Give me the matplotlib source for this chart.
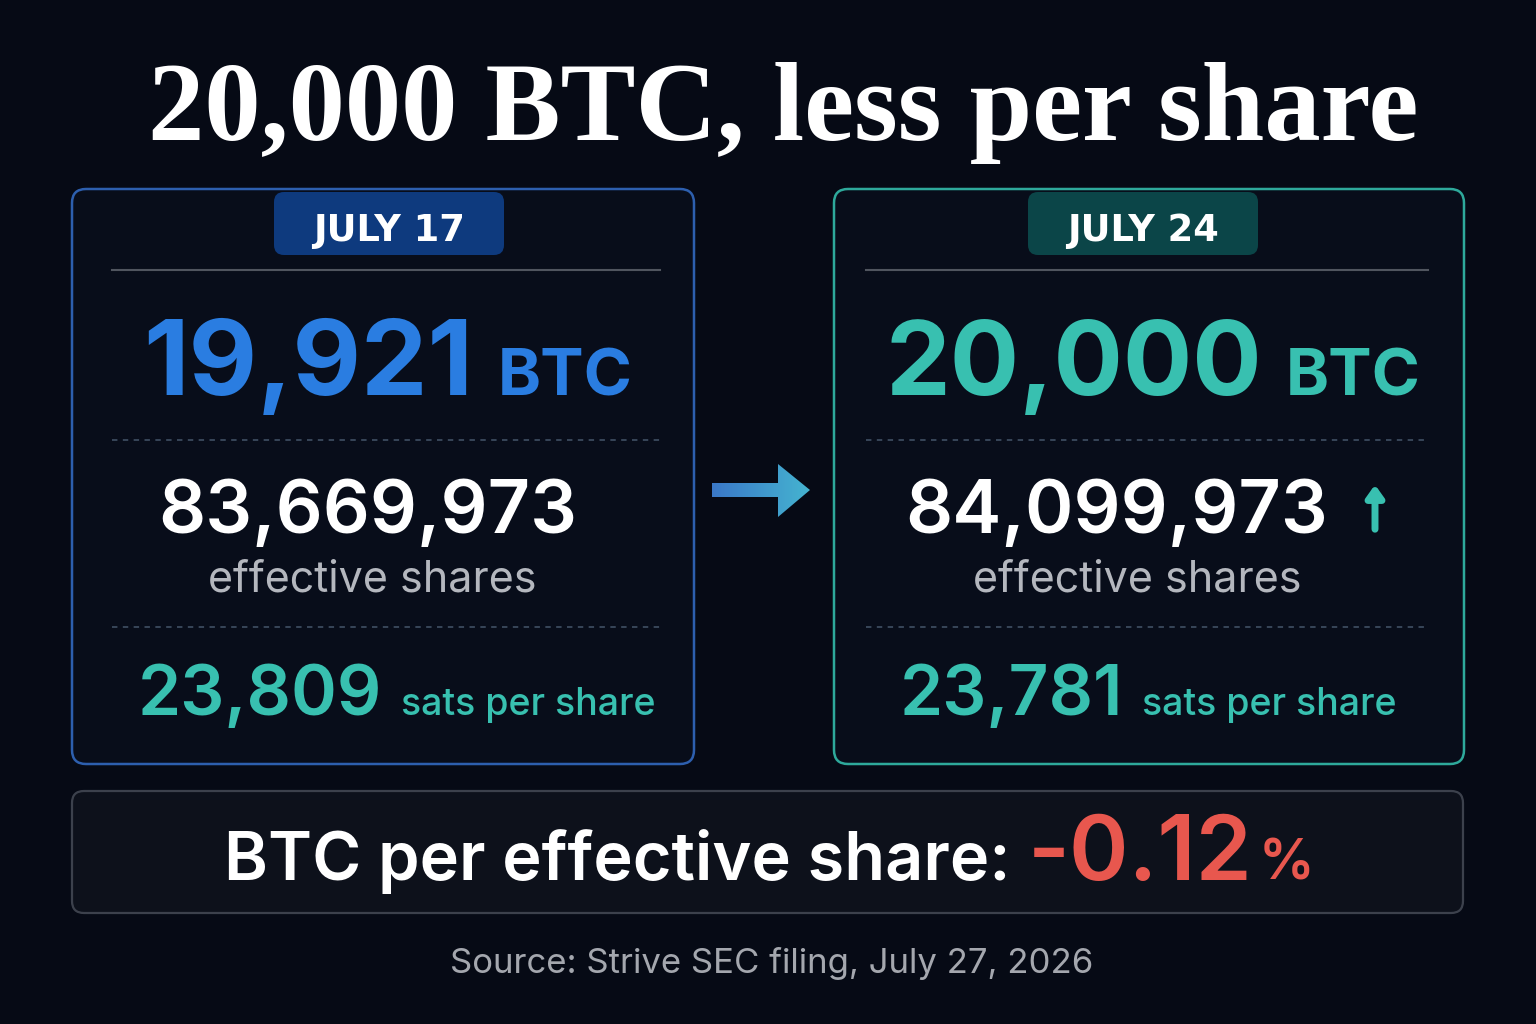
import matplotlib
matplotlib.use("Agg")
import matplotlib.pyplot as plt
import numpy as np
from matplotlib.patches import FancyBboxPatch, Polygon
from matplotlib.colors import LinearSegmentedColormap

# ---- data ----
title = "20,000 BTC, less per share"
dates = ["JULY 17", "JULY 24"]
btc_holdings = [19921, 20000]
effective_shares = [83669973, 84099973]
sats_per_share = [23809, 23781]
change_pct = -0.12
source = "Source: Strive SEC filing, July 27, 2026"

BG = "#060a15"
BLUE = "#2a7de1"
TEAL = "#38c0b0"
RED = "#e8574e"
WHITE = "#ffffff"
GRAY = "#b4b7be"

W, H = 1536, 1024
fig = plt.figure(figsize=(W / 100, H / 100), dpi=100, facecolor=BG)
ax = fig.add_axes([0, 0, 1, 1])
ax.set_xlim(0, W)
ax.set_ylim(H, 0)
ax.axis("off")
ax.set_facecolor(BG)

FONT = ["Inter", "DejaVu Sans"]

fig.canvas.draw()
renderer = fig.canvas.get_renderer()


def width_of(t):
    return t.get_window_extent(renderer=renderer).width


def group(cx, y, parts, gaps):
    """parts: list of (text, size, color, weight). Centered horizontally at cx, baseline y."""
    objs = []
    for s, size, color, weight in parts:
        objs.append(ax.text(0, y, s, fontsize=size, color=color, fontweight=weight,
                            family=FONT, ha="left", va="baseline"))
    widths = [width_of(o) for o in objs]
    if not isinstance(gaps, (list, tuple)):
        gaps = [gaps] * (len(objs) - 1)
    total = sum(widths) + sum(gaps)
    x = cx - total / 2
    for k, (o, w) in enumerate(zip(objs, widths)):
        o.set_x(x)
        x += w + (gaps[k] if k < len(gaps) else 0)
    return objs


# title
ax.text(783, 140, title, fontsize=81, color=WHITE, fontweight="bold",
        family=["Liberation Serif", "DejaVu Serif"], ha="center", va="baseline")

panels = [
    dict(x0=72, x1=694, edge="#2d5fae", badge="#0e3a7e", accent=BLUE, arrow=False,
         badge_dx=6, line=(112, 660), shares_dx=-15, eff_dx=-11, btc_dx=5, sats_dx=14,
         btc_size=76),
    dict(x0=834, x1=1464, edge="#2ea99b", badge="#0b4548", accent=TEAL, arrow=True,
         badge_dx=-6, line=(866, 1428), shares_dx=-32, eff_dx=-12, btc_dx=4, sats_dx=-1,
         btc_size=74),
]

for i, p in enumerate(panels):
    x0, x1 = p["x0"], p["x1"]
    cx = (x0 + x1) / 2
    box = FancyBboxPatch((x0, 189), x1 - x0, 575, boxstyle="round,pad=0,rounding_size=14",
                         facecolor="#080d1a", edgecolor=p["edge"], linewidth=1.8)
    ax.add_patch(box)
    # badge
    bw = 230
    bcx = cx + p["badge_dx"]
    badge = FancyBboxPatch((bcx - bw / 2, 192), bw, 63, boxstyle="round,pad=0,rounding_size=10",
                           facecolor=p["badge"], edgecolor="none")
    ax.add_patch(badge)
    ax.text(bcx, 241, dates[i], fontsize=26.5, color=WHITE, fontweight="bold",
            family=["DejaVu Sans"], ha="center", va="baseline")
    # separators
    la, lb = p["line"]
    ax.plot([la, lb], [270, 270], color="#50555f", lw=1.5)
    ax.plot([la, lb], [440, 440], color="#3b4a5e", lw=1.3, ls=(0, (3, 3)))
    ax.plot([la, lb], [627, 627], color="#3b4a5e", lw=1.3, ls=(0, (3, 3)))

    # BTC holdings
    group(cx + p["btc_dx"], 395, [(f"{btc_holdings[i]:,}", p["btc_size"], p["accent"], "bold"),
                                  ("BTC", 47, p["accent"], "bold")], 24)
    # shares
    group(cx + p["shares_dx"], 533, [(f"{effective_shares[i]:,}", 53, WHITE, "semibold")], 0)
    if p["arrow"]:
        ax.annotate("", xy=(1375, 482), xytext=(1375, 532),
                    arrowprops=dict(arrowstyle="-|>,head_width=0.5,head_length=0.7",
                                    color=TEAL, lw=5))
    ax.text(cx + p["eff_dx"], 592, "effective shares", fontsize=31,
            color=GRAY, family=FONT, ha="center", va="baseline")
    # sats per share
    group(cx + p["sats_dx"], 715, [(f"{sats_per_share[i]:,}", 50, TEAL, "semibold"),
                                   ("sats per share", 27, TEAL, "medium")], 19)

# middle arrow with gradient
arrow = Polygon([(712, 483), (778, 483), (778, 464), (810, 490), (778, 517), (778, 497), (712, 497)],
                closed=True, facecolor="none", edgecolor="none")
ax.add_patch(arrow)
cmap = LinearSegmentedColormap.from_list("ar", ["#3a78c8", "#45b4d0"])
grad = np.linspace(0, 1, 200).reshape(1, -1)
im = ax.imshow(grad, extent=(712, 810, 517, 464), cmap=cmap, aspect="auto", zorder=3)
im.set_clip_path(arrow)
ax.set_xlim(0, W)
ax.set_ylim(H, 0)

# bottom box
bbox = FancyBboxPatch((72, 791), 1391, 122, boxstyle="round,pad=0,rounding_size=12",
                      facecolor="#0d111b", edgecolor="#3c414c", linewidth=1.6)
ax.add_patch(bbox)
group(769, 880, [("BTC per effective share:", 48, WHITE, "semibold"),
                 (f"{change_pct:.2f}", 65, RED, "semibold"),
                 ("%", 40, RED, "semibold")], [18, 6])

ax.text(772, 973, source, fontsize=25, color="#a4a7ae", family=FONT,
        ha="center", va="baseline")

fig.savefig("out.png", dpi=100, facecolor=BG)
